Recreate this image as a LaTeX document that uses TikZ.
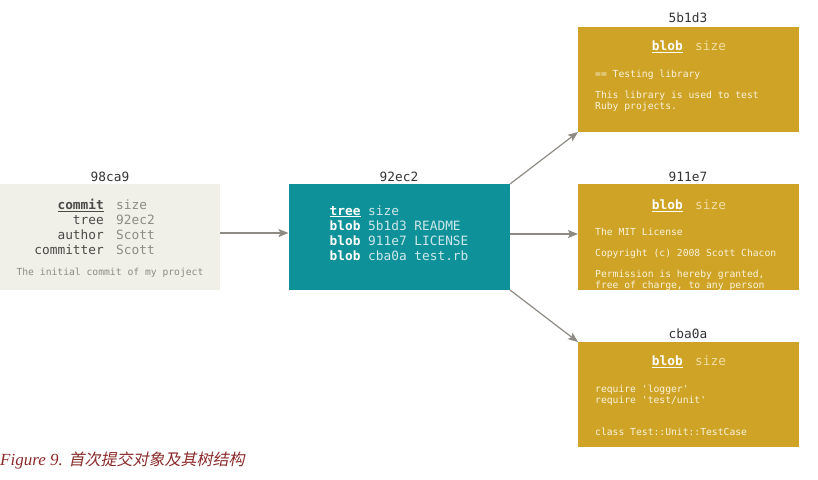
\documentclass[tikz,border=0pt]{standalone}
\usepackage{fontspec}
\setmainfont{Liberation Serif}
\newfontfamily\monof{DejaVu Sans Mono}
\newfontfamily\cjkf[FakeSlant=0.2]{Noto Sans CJK SC}
\usetikzlibrary{arrows.meta}
\definecolor{commitbg}{HTML}{F0EFE8}
\definecolor{keygray}{HTML}{4A4A48}
\definecolor{valgray}{HTML}{8C8B86}
\definecolor{labelgray}{HTML}{333333}
\definecolor{teal}{HTML}{0F9199}
\definecolor{treeval}{HTML}{CDE8EA}
\definecolor{gold}{HTML}{CEA326}
\definecolor{blobsize}{HTML}{F0DDA2}
\definecolor{blobtext}{HTML}{FBF3DC}
\definecolor{arrowgray}{HTML}{8E8B84}
\definecolor{capred}{HTML}{8B2A2A}
\tikzset{
  x=1pt, y=-1pt,
  objbox/.style={rectangle, inner sep=0pt, outer sep=0pt, anchor=north west},
  idlabel/.style={font=\monof\fontsize{12.8}{15}\selectfont, text=labelgray, anchor=base, inner sep=0pt},
  bigtxt/.style={font=\monof\fontsize{12.8}{15}\selectfont, inner sep=0pt},
  smalltxt/.style={font=\monof\fontsize{9.7}{10.7}\selectfont, inner sep=0pt, anchor=base west, text=blobtext},
  arr/.style={draw=arrowgray, line width=1.2pt, -{Stealth[length=10pt,width=8pt,inset=2pt]}}
}
\begin{document}
\begin{tikzpicture}
\useasboundingbox (0,0) rectangle (818,479);

% boxes
\node[objbox, fill=commitbg, minimum width=220pt, minimum height=106pt] (commit) at (0,184) {};
\node[objbox, fill=teal, minimum width=221.5pt, minimum height=106pt] (tree) at (288.5,184) {};
\node[objbox, fill=gold, minimum width=221pt, minimum height=105pt] (blobA) at (578,27) {};
\node[objbox, fill=gold, minimum width=221pt, minimum height=106pt] (blobB) at (578,184) {};
\node[objbox, fill=gold, minimum width=221pt, minimum height=105pt] (blobC) at (578,342) {};

% id labels
\node[idlabel] (lcommit) at (110,181.7) {98ca9};
\node[idlabel] (ltree) at (399,181.7) {92ec2};
\node[idlabel] (lblobA) at (688,22.3) {5b1d3};
\node[idlabel] (lblobB) at (688,181.7) {911e7};
\node[idlabel] (lblobC) at (688,338.3) {cba0a};

% commit content
\node[bigtxt, anchor=base east, text=keygray] (ck1) at (104,209.5) {\underline{\textbf{commit}}};
\node[bigtxt, anchor=base east, text=keygray] (ck2) at (104,224.5) {tree};
\node[bigtxt, anchor=base east, text=keygray] (ck3) at (104,239.5) {author};
\node[bigtxt, anchor=base east, text=keygray] (ck4) at (104,254.5) {committer};
\node[bigtxt, anchor=base west, text=valgray] (cv1) at (116,209.5) {size};
\node[bigtxt, anchor=base west, text=valgray] (cv2) at (116,224.5) {92ec2};
\node[bigtxt, anchor=base west, text=valgray] (cv3) at (116,239.5) {Scott};
\node[bigtxt, anchor=base west, text=valgray] (cv4) at (116,254.5) {Scott};
\node[smalltxt, anchor=base, text=valgray] (cdesc) at (110,275.5) {The initial commit of my project};

% tree content
\node[bigtxt, anchor=base west, text=white] (t1) at (329.5,215) {\underline{\textbf{tree}} \textcolor{treeval}{size}};
\node[bigtxt, anchor=base west, text=white] (t2) at (329.5,230) {\textbf{blob} \textcolor{treeval}{5b1d3 README}};
\node[bigtxt, anchor=base west, text=white] (t3) at (329.5,245) {\textbf{blob} \textcolor{treeval}{911e7 LICENSE}};
\node[bigtxt, anchor=base west, text=white] (t4) at (329.5,260) {\textbf{blob} \textcolor{treeval}{cba0a test.rb}};

% blob A
\node[bigtxt, anchor=base east, text=white] (ak) at (683,50.7) {\underline{\textbf{blob}}};
\node[bigtxt, anchor=base west, text=blobsize] (av) at (695,50.7) {size};
\node[smalltxt] (a1) at (595,77.3) {== Testing library};
\node[smalltxt] (a2) at (595,98.3) {This library is used to test};
\node[smalltxt] (a3) at (595,109) {Ruby projects.};

% blob B
\node[bigtxt, anchor=base east, text=white] (bk) at (683,209.3) {\underline{\textbf{blob}}};
\node[bigtxt, anchor=base west, text=blobsize] (bv) at (695,209.3) {size};
\begin{scope}
\clip (blobB.north west) rectangle (blobB.south east);
\node[smalltxt] (b1) at (595,235) {The MIT License};
\node[smalltxt] (b2) at (595,256.7) {Copyright (c) 2008 Scott Chacon};
\node[smalltxt] (b3) at (595,277.7) {Permission is hereby granted,};
\node[smalltxt] (b4) at (595,288.3) {free of charge, to any person};
\end{scope}

% blob C
\node[bigtxt, anchor=base east, text=white] (ck) at (683,365.7) {\underline{\textbf{blob}}};
\node[bigtxt, anchor=base west, text=blobsize] (cv) at (695,365.7) {size};
\node[smalltxt] (c1) at (595,392.7) {require 'logger'};
\node[smalltxt] (c2) at (595,403.3) {require 'test/unit'};
\node[smalltxt] (c3) at (595,435) {class Test::Unit::TestCase};

% arrows
\draw[arr] ([yshift=4pt]commit.east) -- ([yshift=4pt]tree.west);
\draw[arr] ([yshift=3pt]tree.east) -- ([yshift=3pt]blobB.west);
\draw[arr] (tree.north east) -- (blobA.south west);
\draw[arr] (tree.south east) -- (blobC.north west);

% caption
\node[anchor=base west, inner sep=0pt, text=capred, font=\fontsize{17}{20}\selectfont\itshape] (cap) at (0,465)
  {Figure 9. {\cjkf\fontsize{16}{20}\selectfont 首次提交对象及其树结构}};
\end{tikzpicture}
\end{document}
